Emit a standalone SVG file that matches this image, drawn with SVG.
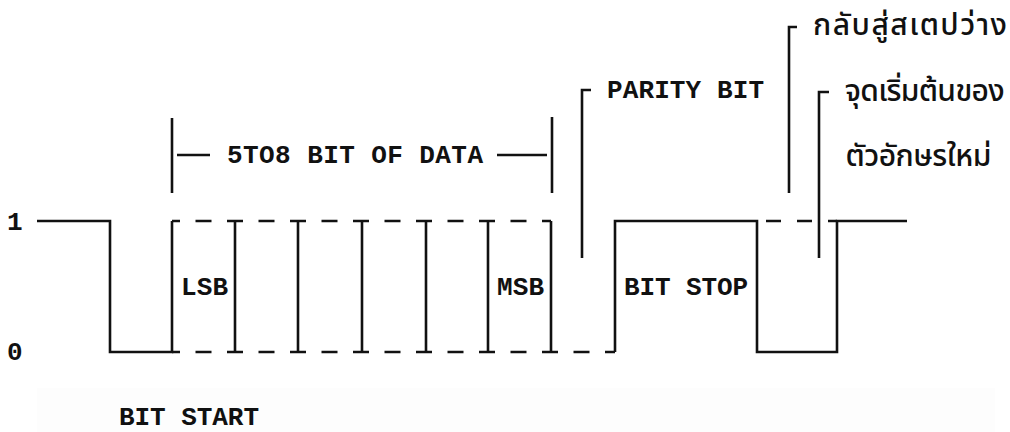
<svg xmlns="http://www.w3.org/2000/svg" width="1010" height="432" viewBox="0 0 1010 432">
  <style>
    .ln { fill: none; stroke: #111; stroke-width: 2.6; stroke-linecap: butt; stroke-linejoin: miter; }
    .dash { fill: none; stroke: #111; stroke-width: 2.6; stroke-dasharray: 16 15.5; stroke-dashoffset: 8; }
    .dash2 { fill: none; stroke: #111; stroke-width: 2.6; stroke-dasharray: 15 16; }
    .lbl { font-family: "Liberation Mono", "DejaVu Sans Mono", monospace; font-size: 26px; font-weight: bold; fill: #111; }
    .th { font-family: "Noto Sans Thai", "Noto Sans", "DejaVu Sans", sans-serif; font-size: 30px; font-weight: 500; fill: #111; }
  </style>
  <rect x="37" y="388" width="958" height="44" fill="#fdfdfd"/>

  <g id="axis-labels">
    <text class="lbl" x="7" y="230">1</text>
    <text class="lbl" x="7" y="360">0</text>
  </g>

  <g id="connectors">
    <path class="ln" d="M37,221 H110 V352 H172 V221"/>
    <path class="ln" d="M615,352 V221 H757 V352 H837 V221 H907"/>
    <path class="dash" d="M172,221 H551"/>
    <path class="dash" d="M172,352 H615"/>
    <path class="dash2" d="M766,221 H837"/>
    <path class="ln" d="M235,221 V352 M298,221 V352 M362,221 V352 M426,221 V352 M488,221 V352 M551,221 V352"/>
    <path class="ln" d="M172,118 V193 M552,117 V193 M177,155 H210 M497,155 H547"/>
    <path class="ln" d="M591,90 H582 V258"/>
    <path class="ln" d="M797,27 H789 V193"/>
    <path class="ln" d="M829,92 H819 V258"/>
  </g>

  <g id="data-label">
    <text class="lbl" x="227" y="163" textLength="256">5TO8 BIT OF DATA</text>
  </g>
  <g id="lsb"><text class="lbl" x="181" y="295" textLength="47">LSB</text></g>
  <g id="msb"><text class="lbl" x="497" y="295" textLength="47">MSB</text></g>
  <g id="parity"><text class="lbl" x="607" y="98" textLength="157">PARITY BIT</text></g>
  <g id="bit-stop"><text class="lbl" x="624" y="295" textLength="124">BIT STOP</text></g>
  <g id="bit-start"><text class="lbl" x="119" y="425" textLength="140">BIT START</text></g>
  <g id="idle">
    <text class="th" x="813" y="35" textLength="194">กลับสู่สเตปว่าง</text>
  </g>
  <g id="new-char">
    <text class="th" x="844" y="101" textLength="160">จุดเริ่มต้นของ</text>
    <text class="th" x="845" y="166" textLength="146">ตัวอักษรใหม่</text>
  </g>
</svg>
